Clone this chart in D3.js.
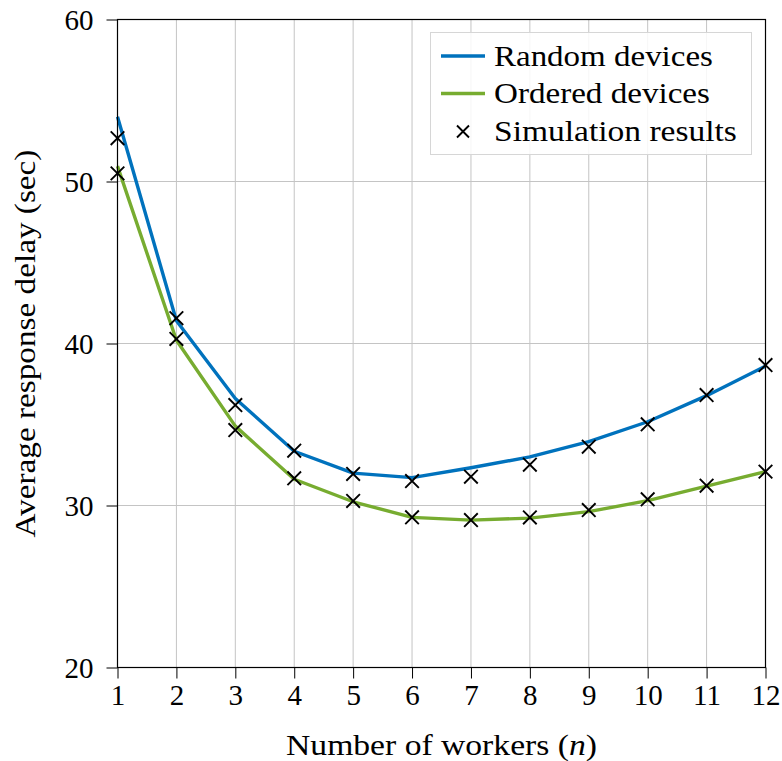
<!DOCTYPE html>
<html>
<head>
<script src="https://cdn.jsdelivr.net/npm/d3@7"></script>
</head>
<body style="margin:0">
<svg id="chart" width="782" height="761"></svg>
<script>
// ---- data ----
const workers = [1, 2, 3, 4, 5, 6, 7, 8, 9, 10, 11, 12];
const randomDevices = [54.0, 41.4, 36.6, 33.35, 32.0, 31.72, 32.33, 33.0, 33.94, 35.17, 36.78, 38.6];
const orderedDevices = [50.95, 40.2, 34.9, 31.62, 30.23, 29.27, 29.1, 29.22, 29.62, 30.3, 31.2, 32.09];
const simRandom = [52.67, 41.56, 36.2, 33.38, 31.95, 31.51, 31.78, 32.52, 33.63, 35.01, 36.82, 38.67];
const simOrdered = [50.5, 40.28, 34.66, 31.68, 30.28, 29.27, 29.1, 29.26, 29.72, 30.38, 31.22, 32.09];
const xTicks = [1, 2, 3, 4, 5, 6, 7, 8, 9, 10, 11, 12];
const yTicks = [20, 30, 40, 50, 60];
const legendLabels = ["Random devices", "Ordered devices", "Simulation results"];

const svg = d3.select("#chart");
const mL = 117.5, mR = 765.5, mT = 19.5, mB = 667.5;
const x = d3.scaleLinear().domain([1, 12]).range([mL, mR]);
const y = d3.scaleLinear().domain([20, 60]).range([mB, mT]);

function serif(sel, size) {
  return sel.style("font-family", '"Liberation Serif"').attr("font-size", size).attr("fill", "#000");
}
// stretch a text horizontally (in its own direction) to a target width
function stretch(sel, base, target, fallback) {
  let len = 0;
  try { len = sel.node().getComputedTextLength(); } catch (e) { len = 0; }
  let s = (len > 0) ? target / len : fallback;
  if (!(s > 0.8 && s < 1.5)) s = fallback;
  sel.attr("transform", `${base} scale(${s},1)`);
}

// grid
svg.append("g").selectAll("line").data(xTicks).join("line")
  .attr("x1", d => x(d)).attr("x2", d => x(d))
  .attr("y1", mT).attr("y2", mB)
  .attr("stroke", "#c4c4c4").attr("stroke-width", 1);
svg.append("g").selectAll("line").data(yTicks).join("line")
  .attr("x1", mL).attr("x2", mR)
  .attr("y1", d => y(d)).attr("y2", d => y(d))
  .attr("stroke", "#c4c4c4").attr("stroke-width", 1);

// lines
const line = d3.line().x((d, i) => x(workers[i])).y(d => y(d));
svg.append("path").datum(randomDevices).attr("d", line)
  .attr("fill", "none").attr("stroke", "#0072BD").attr("stroke-width", 3.4)
  .attr("stroke-linejoin", "round");
svg.append("path").datum(orderedDevices).attr("d", line)
  .attr("fill", "none").attr("stroke", "#77AC30").attr("stroke-width", 3.4)
  .attr("stroke-linejoin", "round");

// markers (X shapes)
function drawX(vals) {
  const s = 6.8;
  svg.append("g").selectAll("path").data(vals).join("path")
    .attr("d", (d, i) => {
      const cx = x(workers[i]), cy = y(d);
      return `M${cx - s},${cy - s}L${cx + s},${cy + s}M${cx - s},${cy + s}L${cx + s},${cy - s}`;
    })
    .attr("fill", "none").attr("stroke", "#000").attr("stroke-width", 1.9);
}
drawX(simRandom);
drawX(simOrdered);

// axes
const xAxis = d3.axisBottom(x).tickValues(xTicks).tickSizeInner(11).tickSizeOuter(0).tickPadding(6);
const yAxis = d3.axisLeft(y).tickValues(yTicks).tickSizeInner(11).tickSizeOuter(0).tickPadding(13);
const gx = svg.append("g").attr("transform", `translate(0,${mB})`).call(xAxis);
const gy = svg.append("g").attr("transform", `translate(${mL},0)`).call(yAxis);
[gx, gy].forEach(g => {
  g.attr("font-family", null).attr("font-size", null);
  g.select(".domain").remove();
  g.selectAll(".tick line").attr("stroke", "#000").attr("stroke-width", 1);
  serif(g.selectAll(".tick text"), 29);
});
gx.selectAll(".tick text").attr("dy", "0.71em");
gy.selectAll(".tick text").attr("dy", "0.34em");

// frame
svg.append("rect").attr("x", mL).attr("y", mT)
  .attr("width", mR - mL).attr("height", mB - mT)
  .attr("fill", "none").attr("stroke", "#000").attr("stroke-width", 1.2);

// axis titles
const xt = serif(svg.append("text"), 29).attr("x", 0).attr("y", 0)
  .attr("text-anchor", "middle");
xt.append("tspan").text("Number of workers (");
xt.append("tspan").attr("font-style", "italic").text("n");
xt.append("tspan").text(")");
stretch(xt, `translate(${(mL + mR) / 2},755)`, 311, 1.15);

const yt = serif(svg.append("text"), 29).attr("x", 0).attr("y", 0)
  .attr("text-anchor", "middle")
  .text("Average response delay (sec)");
stretch(yt, `translate(35,${(mT + mB) / 2}) rotate(-90)`, 388, 1.15);

// legend
const lg = svg.append("g");
lg.append("rect").attr("x", 430.5).attr("y", 32.5).attr("width", 321).attr("height", 122)
  .attr("fill", "#fff").attr("fill-opacity", 0.85).attr("stroke", "#d6d6d6").attr("stroke-width", 1);
const legY = [56, 93.5, 131.5];
const legColors = ["#0072BD", "#77AC30", null];
const legWidths = [219, 216, 243];
legendLabels.forEach((lab, i) => {
  if (legColors[i]) {
    lg.append("line").attr("x1", 441).attr("x2", 485).attr("y1", legY[i]).attr("y2", legY[i])
      .attr("stroke", legColors[i]).attr("stroke-width", 3.4);
  } else {
    const s = 6, cx = 463, cy = legY[i];
    lg.append("path").attr("d", `M${cx - s},${cy - s}L${cx + s},${cy + s}M${cx - s},${cy + s}L${cx + s},${cy - s}`)
      .attr("stroke", "#000").attr("stroke-width", 1.9).attr("fill", "none");
  }
  const t = serif(lg.append("text"), 29).attr("x", 0).attr("y", 0).text(lab);
  stretch(t, `translate(494,${legY[i] + 9.5})`, legWidths[i], 1.12);
});
</script>
</body>
</html>
